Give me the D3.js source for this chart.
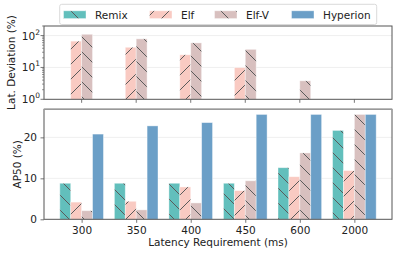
<!DOCTYPE html>
<html>
<head>
<meta charset="utf-8">
<script src="https://cdn.jsdelivr.net/npm/d3@7"></script>
<style>
  body { margin: 0; background: #fff; }
  svg { display: block; font-family: "DejaVu Sans", sans-serif; }
</style>
</head>
<body>
<svg id="chart" width="397" height="255"></svg>
<script>
// ---- data ----
const categories = ["300", "350", "400", "450", "600", "2000"];
const seriesNames = ["Remix", "Elf", "Elf-V", "Hyperion"];

// Lat. Deviation (%) — log panel, null = no bar
const devRemix    = [null, null, null, null, null, null];
const devElf      = [67, 43, 25, 9.9, null, null];
const devElfV     = [110, 79, 59, 37, 3.8, null];
const devHyperion = [null, null, null, null, null, null];

// AP50 (%)
const apRemix    = [8.8, 8.8, 8.8, 8.8, 12.6, 21.7];
const apElf      = [4.2, 4.4, 7.9, 7.0, 10.4, 11.9];
const apElfV     = [2.1, 2.3, 4.0, 9.4, 16.2, 25.6];
const apHyperion = [20.8, 22.8, 23.6, 25.6, 25.6, 25.6];

const apTicks = [0, 10, 20];
const devTicks = [1, 10, 100];

// ---- styles ----
const colors = ["#62bfbc", "#f9cac2", "#d8c0bf", "#6b9fc7"];
const hatches = ["back", "fwd", "back", null];

const svg = d3.select("#chart");
const defs = svg.append("defs");

// hatch patterns (one per series that has a hatch)
seriesNames.forEach(function (name, i) {
    if (!hatches[i]) return;
    const p = defs.append("pattern")
        .attr("id", "hatch-" + i)
        .attr("patternUnits", "userSpaceOnUse")
        .attr("width", 15).attr("height", 15);
    p.append("rect").attr("width", 15).attr("height", 15).attr("fill", colors[i]);
    const d = hatches[i] === "back"
        ? "M-1,-1 L16,16 M-1,14 L1,16 M14,-1 L16,1"
        : "M-1,16 L16,-1 M-1,1 L1,-1 M14,16 L16,14";
    p.append("path").attr("d", d)
        .attr("stroke", "#5a5a5a").attr("stroke-width", 1);
});

function fillFor(i) { return hatches[i] ? "url(#hatch-" + i + ")" : colors[i]; }

const left = 44, right = 392;
const x = d3.scaleLinear().domain([-0.69, 5.69]).range([left, right]);
const barW = 0.2;
const offsets = [-0.3, -0.1, 0.1, 0.3];

const topY = d3.scaleLog().domain([1, 200]).range([99.3, 26]);
const botY = d3.scaleLinear().domain([0, 26.85]).range([219.3, 109.3]);

const spine = "#555";

// ---------- top panel ----------
const gTop = svg.append("g");

// grid
gTop.selectAll(".grid").data(devTicks.slice(1)).enter().append("line")
    .attr("x1", left).attr("x2", right)
    .attr("y1", d => topY(d)).attr("y2", d => topY(d))
    .attr("stroke", "#ebebeb").attr("stroke-width", 0.8);

const devSeries = [devRemix, devElf, devElfV, devHyperion];
devSeries.forEach(function (vals, si) {
    gTop.append("g").selectAll("rect")
        .data(vals.map((v, ci) => ({ v: v, ci: ci })).filter(d => d.v !== null && d.v > 1))
        .enter().append("rect")
        .attr("x", d => x(d.ci + offsets[si] - barW / 2))
        .attr("width", d => x(barW) - x(0))
        .attr("y", d => topY(d.v))
        .attr("height", d => topY(1) - topY(d.v))
        .attr("fill", fillFor(si))
        .attr("stroke", "#fff").attr("stroke-opacity", 0.5).attr("stroke-width", 0.8);
});

// log axis with minor ticks
const yAxTop = gTop.append("g").attr("transform", "translate(" + left + ",0)");
const minors = [];
[1, 10, 100].forEach(function (b) {
    for (let k = 2; k <= 9; k++) if (b * k <= 200) minors.push(b * k);
});
yAxTop.selectAll(".minor").data(minors).enter().append("line")
    .attr("x1", -2).attr("x2", 0)
    .attr("y1", d => topY(d)).attr("y2", d => topY(d))
    .attr("stroke", spine).attr("stroke-width", 0.6);
yAxTop.selectAll(".major").data(devTicks).enter().append("line")
    .attr("x1", -3.5).attr("x2", 0)
    .attr("y1", d => topY(d)).attr("y2", d => topY(d))
    .attr("stroke", spine).attr("stroke-width", 0.8);
const devLbl = yAxTop.selectAll(".lbl").data(devTicks).enter().append("text")
    .attr("x", -7).attr("y", d => topY(d) + 4)
    .attr("text-anchor", "end").attr("font-size", 10.5).attr("fill", "#222");
devLbl.append("tspan").text("10");
devLbl.append("tspan").attr("dy", -5).attr("font-size", 7.5)
    .text(d => String(Math.round(Math.log10(d))));
// shift so exponent sits right of "10"
devLbl.attr("x", -4);

// x tick marks (no labels) on top panel
gTop.selectAll(".xt").data(categories).enter().append("line")
    .attr("x1", (d, i) => x(i)).attr("x2", (d, i) => x(i))
    .attr("y1", 99.3).attr("y2", 102.8)
    .attr("stroke", spine).attr("stroke-width", 0.8);

gTop.append("rect")
    .attr("x", left).attr("y", 26).attr("width", right - left).attr("height", 99.3 - 26)
    .attr("fill", "none").attr("stroke", spine).attr("stroke-width", 1);

svg.append("text")
    .attr("transform", "translate(14.5,62.5) rotate(-90)")
    .attr("text-anchor", "middle").attr("font-size", 10.5).attr("fill", "#222")
    .text("Lat. Deviation (%)");

// ---------- bottom panel ----------
const gBot = svg.append("g");

gBot.selectAll(".grid").data(apTicks.slice(1)).enter().append("line")
    .attr("x1", left).attr("x2", right)
    .attr("y1", d => botY(d)).attr("y2", d => botY(d))
    .attr("stroke", "#ebebeb").attr("stroke-width", 0.8);

const apSeries = [apRemix, apElf, apElfV, apHyperion];
apSeries.forEach(function (vals, si) {
    gBot.append("g").selectAll("rect")
        .data(vals.map((v, ci) => ({ v: v, ci: ci })))
        .enter().append("rect")
        .attr("x", d => x(d.ci + offsets[si] - barW / 2))
        .attr("width", d => x(barW) - x(0))
        .attr("y", d => botY(d.v))
        .attr("height", d => botY(0) - botY(d.v))
        .attr("fill", fillFor(si))
        .attr("stroke", "#fff").attr("stroke-opacity", 0.5).attr("stroke-width", 0.8);
});

const yAxBot = gBot.append("g").attr("transform", "translate(" + left + ",0)")
    .call(d3.axisLeft(botY).tickValues(apTicks).tickSize(3.5).tickPadding(3.5));
const xAxBot = gBot.append("g").attr("transform", "translate(0,219.3)")
    .call(d3.axisBottom(x).tickValues(d3.range(categories.length))
        .tickFormat(i => categories[i]).tickSize(3.5).tickPadding(3.5));
[yAxBot, xAxBot].forEach(function (a) {
    a.select(".domain").remove();
    a.selectAll(".tick line").attr("stroke", spine).attr("stroke-width", 0.8);
    a.selectAll(".tick text").attr("font-size", 10.5).attr("fill", "#222")
        .attr("font-family", "DejaVu Sans, sans-serif");
});

gBot.append("rect")
    .attr("x", left).attr("y", 109.3).attr("width", right - left).attr("height", 219.3 - 109.3)
    .attr("fill", "none").attr("stroke", spine).attr("stroke-width", 1);
gBot.append("line")
    .attr("x1", left).attr("x2", right).attr("y1", 109.3).attr("y2", 109.3)
    .attr("stroke", "#999").attr("stroke-width", 1.5);

svg.append("text")
    .attr("transform", "translate(20.5,164.3) rotate(-90)")
    .attr("text-anchor", "middle").attr("font-size", 10.5).attr("fill", "#222")
    .text("AP50 (%)");

svg.append("text")
    .attr("x", 218).attr("y", 246)
    .attr("text-anchor", "middle").attr("font-size", 10.5).attr("fill", "#222")
    .text("Latency Requirement (ms)");

// ---------- legend ----------
const leg = svg.append("g");
leg.append("rect")
    .attr("x", 59.7).attr("y", 4.3).attr("width", 317).attr("height", 20.2)
    .attr("rx", 2).attr("fill", "#fff").attr("fill-opacity", 0.85)
    .attr("stroke", "#d0d0d0").attr("stroke-width", 0.8);
const legX = [63.5, 149.5, 214.5, 291.5];
seriesNames.forEach(function (name, i) {
    leg.append("rect")
        .attr("x", legX[i]).attr("y", 10.8).attr("width", 22.5).attr("height", 7.8)
        .attr("fill", fillFor(i))
        .attr("stroke", "#fff").attr("stroke-opacity", 0.5).attr("stroke-width", 0.8);
    leg.append("text")
        .attr("x", legX[i] + 31.5).attr("y", 18.6)
        .attr("font-size", 10.5).attr("fill", "#222")
        .text(name);
});
</script>
</body>
</html>
